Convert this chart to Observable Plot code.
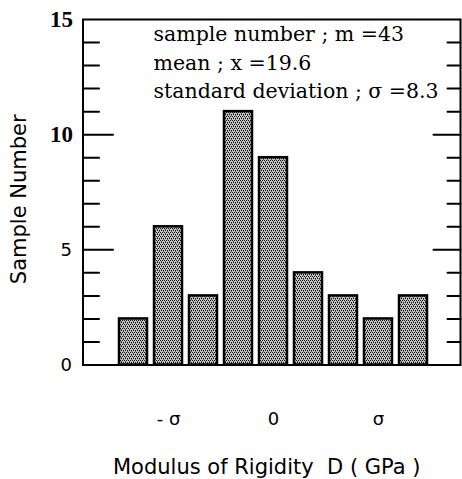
<!DOCTYPE html>
<html><head><meta charset="utf-8">
<script src="https://cdn.jsdelivr.net/npm/d3@7"></script>
<script src="https://cdn.jsdelivr.net/npm/@observablehq/plot@0.6"></script>
<style>body{margin:0;background:#fff}</style>
</head><body><div id="chart"></div>
<script>
const binIndex = [1, 2, 3, 4, 5, 6, 7, 8, 9];
const counts = [2, 6, 3, 11, 9, 4, 3, 2, 3];
const xTickPos = [2, 5, 8];
const xTickLabels = ["- σ", "0", "σ"];
const yMajorSerif = [10, 15];
const yMajorSans = [0, 5];
const yMajor = [5, 10];
const yMinor = [1, 2, 3, 4, 6, 7, 8, 9, 11, 12, 13, 14];
const notes = ["sample number ; m =43", "mean ; x =19.6", "standard deviation ; σ =8.3"];

const bars = binIndex.map((b, i) => ({bin: b, count: counts[i]}));
const xticks = xTickPos.map((p, i) => ({pos: p, label: xTickLabels[i]}));
const seg = {draw(ctx, l) { ctx.moveTo(0, 0); ctx.lineTo(0, -l); }};
const sans = "DejaVu Sans";
const serif = "DejaVu Serif";

const svg = Plot.plot({
  width: 462, height: 479,
  marginLeft: 82.5, marginRight: 2, marginTop: 19, marginBottom: 114.5,
  x: {type: "linear", domain: [-0.443, 10.343], axis: null},
  y: {domain: [0, 15], axis: null},
  marks: [
    Plot.rectY(bars, {x1: d => d.bin - 0.4, x2: d => d.bin + 0.4, y1: 0, y2: "count", fill: "#aaa", stroke: "black", strokeWidth: 2.5}),
    Plot.frame({stroke: "black", strokeWidth: 2}),
    Plot.vector(yMinor, {y: d => d, frameAnchor: "left", rotate: 90, length: 16, anchor: "start", shape: seg, stroke: "black", strokeWidth: 2}),
    Plot.vector(yMajor, {y: d => d, frameAnchor: "left", rotate: 90, length: 30, anchor: "start", shape: seg, stroke: "black", strokeWidth: 2}),
    Plot.vector(yMinor, {y: d => d, frameAnchor: "right", rotate: -90, length: 13, anchor: "start", shape: seg, stroke: "black", strokeWidth: 2}),
    Plot.vector(yMajor, {y: d => d, frameAnchor: "right", rotate: -90, length: 27, anchor: "start", shape: seg, stroke: "black", strokeWidth: 2}),
    Plot.text(yMajorSerif, {y: d => d, text: d => String(d), frameAnchor: "left", dx: -10, textAnchor: "end", lineAnchor: "middle", fontFamily: "Liberation Serif", fontSize: 23, fontWeight: "bold", fill: "black"}),
    Plot.text(yMajorSans, {y: d => d, text: d => String(d), frameAnchor: "left", dx: -11, textAnchor: "end", lineAnchor: "middle", fontFamily: sans, fontSize: 18, fill: "black"}),
    Plot.text(xticks, {x: "pos", text: "label", frameAnchor: "bottom", dy: 54.5, textAnchor: "middle", lineAnchor: "middle", fontFamily: sans, fontSize: 18, fill: "black"}),
    Plot.text(["Sample Number"], {text: d => d, frameAnchor: "left", rotate: -90, dx: -64, dy: 7, textAnchor: "middle", lineAnchor: "middle", fontFamily: sans, fontSize: 21, fill: "black"}),
    Plot.text(["Modulus of Rigidity  D ( GPa )"], {text: d => d, frameAnchor: "bottom", dx: -5, dy: 102, textAnchor: "middle", lineAnchor: "middle", fontFamily: sans, fontSize: 21, fill: "black"}),
    Plot.text([notes.join("\n")], {text: d => d, frameAnchor: "top-left", dx: 70.5, dy: 2, textAnchor: "start", lineAnchor: "top", lineHeight: 1.37, fontFamily: serif, fontSize: 20.5, fill: "black"})
  ]
});

const defs = d3.select(svg).insert("defs", ":first-child");
const pat = defs.append("pattern").attr("id", "dots").attr("patternUnits", "userSpaceOnUse").attr("width", 4).attr("height", 4);
pat.append("rect").attr("width", 4).attr("height", 4).attr("fill", "#c4c4c4");
[[0, 0], [2, 0], [1, 2], [3, 2]].forEach(([a, b]) => pat.append("rect").attr("x", a).attr("y", b).attr("width", 1).attr("height", 1).attr("fill", "#111"));
[[1, 1], [3, 3]].forEach(([a, b]) => pat.append("rect").attr("x", a).attr("y", b).attr("width", 1).attr("height", 1).attr("fill", "#555"));
d3.select(svg).selectAll("g[aria-label='rect'] rect").attr("fill", "url(#dots)");

document.getElementById("chart").appendChild(svg);
</script>
</body></html>
